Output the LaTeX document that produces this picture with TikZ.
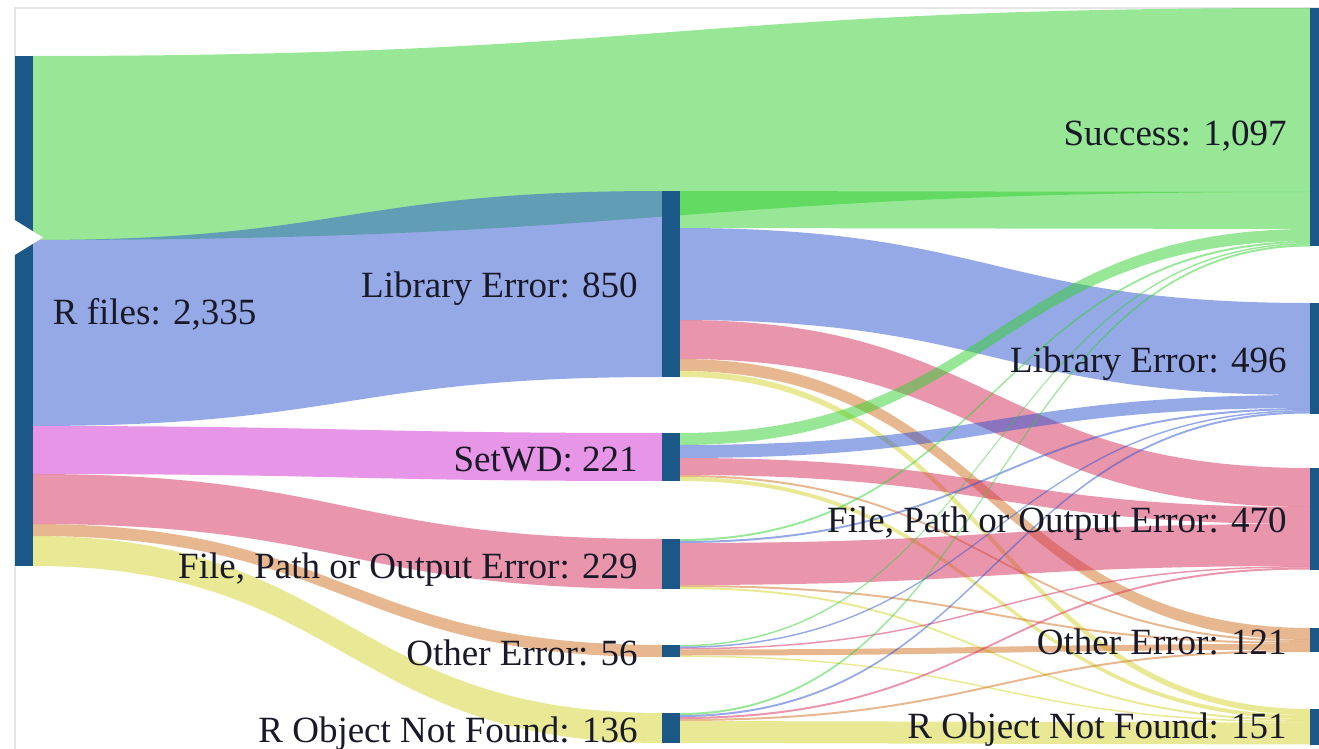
\documentclass[tikz,border=0pt]{standalone}
\usepackage{fontspec}
\setmainfont{Liberation Serif}
\definecolor{barblue}{RGB}{28,88,135}
\definecolor{txt}{RGB}{25,25,40}
\definecolor{cS}{RGB}{49,209,49}
\definecolor{cL}{RGB}{45,85,209}
\definecolor{cW}{RGB}{209,45,209}
\definecolor{cF}{RGB}{213,45,89}
\definecolor{cO}{RGB}{209,113,33}
\definecolor{cR}{RGB}{213,213,45}
\newcommand{\band}[7]{%
  \fill[#1, fill opacity=0.5] (#2,#3) .. controls ({(#2+#5)/2},#3) and ({(#2+#5)/2},#6) .. (#5,#6)
    -- (#5,#7) .. controls ({(#2+#5)/2},#7) and ({(#2+#5)/2},#4) .. (#2,#4) -- cycle;}
\begin{document}
\begin{tikzpicture}[x=0.5pt,y=-0.5pt,
  bar/.style={rectangle, fill=barblue, draw=none, minimum width=9pt, inner sep=0pt, outer sep=0pt},
  lbl/.style={font=\fontsize{18.5}{22}\selectfont, text=txt, inner sep=0pt}]
\useasboundingbox (0,0) rectangle (1319,749);
\fill[white] (0,0) rectangle (1319,749);
\draw[black!10, line width=0.6pt] (15,749) -- (15,8) -- (1319,8);
% flows from R files
\band{cS}{32}{56}{240}{1310}{8}{192}
\band{cL}{32}{240}{426}{662}{191}{377}
\band{cW}{32}{426}{474}{662}{433}{481}
\band{cF}{32}{474}{524}{662}{539}{589}
\band{cO}{32}{524}{536}{662}{645}{657}
\band{cR}{32}{536}{566}{662}{713}{743}
% from Library Error 850
\band{cS}{680}{191}{228}{1310}{192}{229}
\band{cL}{680}{228}{320}{1310}{303}{395}
\band{cF}{680}{320}{359}{1310}{468}{507}
\band{cO}{680}{359}{371}{1310}{628}{640}
\band{cR}{680}{371}{377}{1310}{709}{715}
% from SetWD
\band{cS}{680}{433}{445}{1310}{229}{241}
\band{cL}{680}{445}{458}{1310}{395}{408}
\band{cF}{680}{458}{475}{1310}{507}{524}
\band{cO}{680}{475}{477}{1310}{640}{642}
\band{cR}{680}{477}{481}{1310}{715}{719}
% from File, Path or Output Error 229
\band{cS}{680}{539}{541}{1310}{241}{243}
\band{cL}{680}{541}{543}{1310}{408}{410}
\band{cF}{680}{543}{585}{1310}{524}{566}
\band{cO}{680}{585}{587}{1310}{642}{644}
\band{cR}{680}{587}{589}{1310}{719}{721}
% from Other Error 56
\band{cS}{680}{645}{646.5}{1310}{243}{244.5}
\band{cL}{680}{646.5}{648}{1310}{410}{411.5}
\band{cF}{680}{648}{649.5}{1310}{566}{567.5}
\band{cO}{680}{649.5}{655.5}{1310}{644}{650}
\band{cR}{680}{655.5}{657}{1310}{721}{722.5}
% from R Object Not Found 136
\band{cS}{680}{713}{715}{1310}{244.5}{246.5}
\band{cL}{680}{715}{717}{1310}{411.5}{413.5}
\band{cF}{680}{717}{719}{1310}{567.5}{569.5}
\band{cO}{680}{719}{721}{1310}{650}{652}
\band{cR}{680}{721}{743}{1310}{722.5}{744.5}
% node bars
\node[bar, minimum height=255pt] (rf) at (23.5,311) {};
\node[bar, minimum height=93pt] (ml) at (671,284) {};
\node[bar, minimum height=24pt] (mw) at (671,457) {};
\node[bar, minimum height=25pt] (mf) at (671,564) {};
\node[bar, minimum height=6pt] (mo) at (671,651) {};
\node[bar, minimum height=15pt] (mr) at (671,728) {};
\node[bar, minimum height=119.25pt] (rs) at (1319,127.25) {};
\node[bar, minimum height=55.25pt] (rl) at (1319,358.25) {};
\node[bar, minimum height=50.75pt] (rfo) at (1319,518.75) {};
\node[bar, minimum height=12pt] (ro) at (1319,640) {};
\node[bar, minimum height=17.75pt] (rr) at (1319,726.75) {};
% notch
\fill[white] (13,219) -- (43,237.5) -- (13,256) -- cycle;
% labels
\node[lbl, anchor=base west] (trf) at ([xshift=10pt,yshift=-6.5pt]rf.east) {R files: 2,335};
\node[lbl, anchor=base east] (tml) at ([xshift=-12pt,yshift=-7pt]ml.west) {Library Error: 850};
\node[lbl, anchor=base east] (tmw) at ([xshift=-12pt,yshift=-7pt]mw.west) {SetWD: 221};
\node[lbl, anchor=base east] (tmf) at ([xshift=-12pt,yshift=-7pt]mf.west) {File, Path or Output Error: 229};
\node[lbl, anchor=base east] (tmo) at ([xshift=-12pt,yshift=-7pt]mo.west) {Other Error: 56};
\node[lbl, anchor=base east] (tmr) at ([xshift=-12pt,yshift=-7pt]mr.west) {R Object Not Found: 136};
\node[lbl, anchor=base east] (trs) at ([xshift=-11.5pt,yshift=-9pt]rs.west) {Success: 1,097};
\node[lbl, anchor=base east] (trl) at ([xshift=-11.5pt,yshift=-7pt]rl.west) {Library Error: 496};
\node[lbl, anchor=base east] (trfo) at ([xshift=-11.5pt,yshift=-7pt]rfo.west) {File, Path or Output Error: 470};
\node[lbl, anchor=base east] (tro) at ([xshift=-11.5pt,yshift=-7pt]ro.west) {Other Error: 121};
\node[lbl, anchor=base east] (trr) at ([xshift=-11.5pt,yshift=-6pt]rr.west) {R Object Not Found: 151};
\end{tikzpicture}
\end{document}
